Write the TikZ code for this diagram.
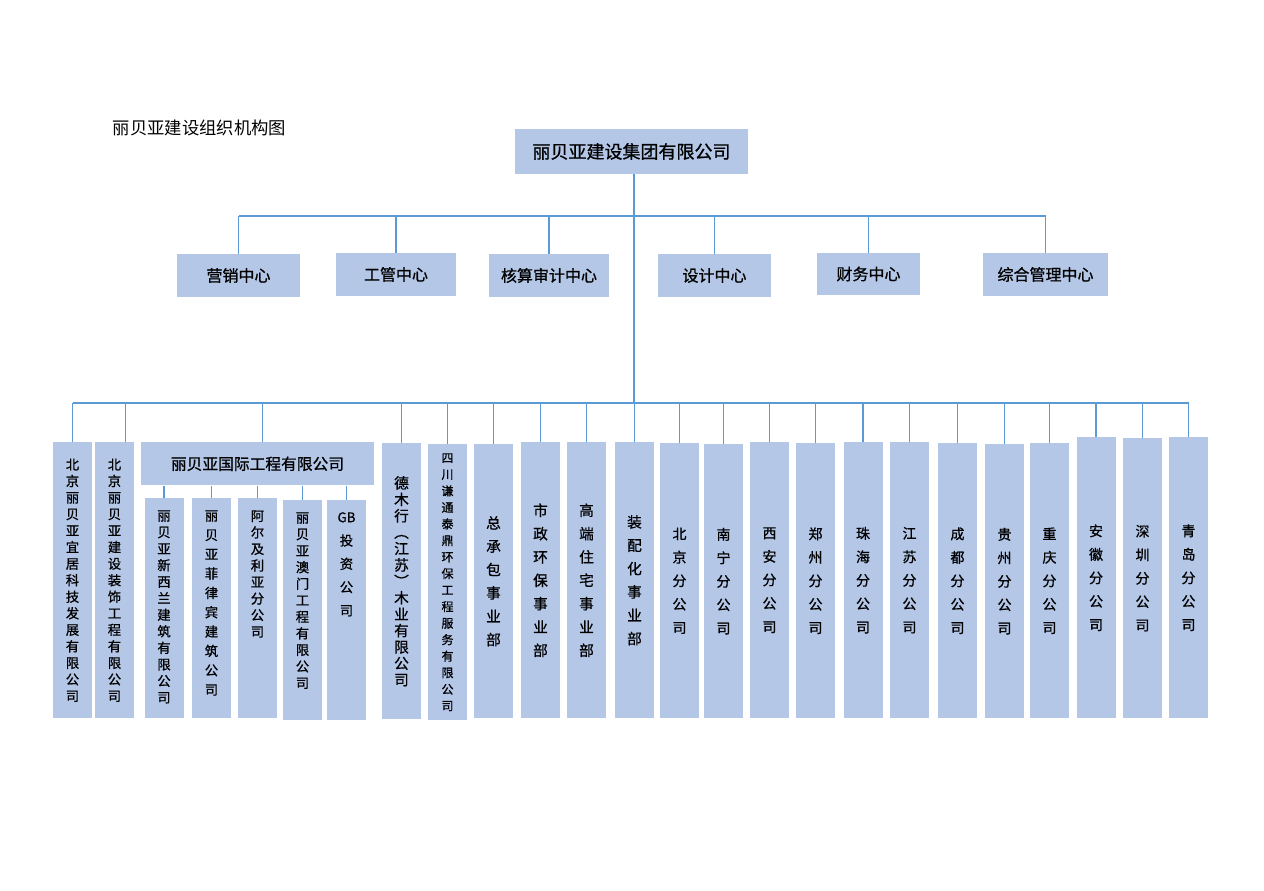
\documentclass[tikz,border=0pt]{standalone}
\usepackage{fontspec}
\setmainfont{Noto Sans CJK SC}[BoldFont={Noto Sans CJK SC}, BoldFeatures={FakeBold=0.8}]
\definecolor{boxblue}{HTML}{B4C7E7}
\definecolor{lnk}{HTML}{5B9BD5}

\begin{document}
\begin{tikzpicture}[
  x=0.75pt, y=-0.75pt,
  hd/.style={fill=boxblue, minimum width=174.75pt, minimum height=33.75pt,
             font=\fontsize{13.5}{16}\selectfont\bfseries},
  ctr/.style={fill=boxblue, minimum height=32.25pt, inner sep=1pt,
              font=\fontsize{12}{14}\selectfont\bfseries},
  col/.style={fill=boxblue, anchor=north, minimum width=29.25pt, minimum height=#1,
              inner sep=0pt, align=center},
  col/.default=207pt,
  sm/.style={font=\fontsize{10}{12.4}\selectfont\bfseries},
  br/.style={font=\fontsize{10.5}{17.6}\selectfont\bfseries},
  dp/.style={font=\fontsize{11}{17.5}\selectfont\bfseries},
  toptxt/.style 2 args={label={[anchor=north, yshift=-9pt, align=center, inner sep=0pt,
              font=\fontsize{10}{#1}\selectfont\bfseries]north:#2}},
  ln/.style={draw=lnk, line width=0.9pt}
]
\useasboundingbox (0,0) rectangle (1264,891);

\node[anchor=west, font=\fontsize{13}{15}\selectfont] (title) at (108,128) {丽贝亚建设组织机构图};
\node[hd] (grp) at (631.5,151.5) {丽贝亚建设集团有限公司};

% centres
\node[ctr, minimum width=92.25pt] (yx) at (238.5,275.5) {营销中心};
\node[ctr, minimum width=90pt]    (gg) at (396,274.5)   {工管中心};
\node[ctr, minimum width=90pt]    (hs) at (549,275.5)   {核算审计中心};
\node[ctr, minimum width=84.75pt] (sj) at (714.5,275.5) {设计中心};
\node[ctr, minimum width=77.25pt, minimum height=31.5pt] (cw) at (868.5,274) {财务中心};
\node[ctr, minimum width=93.75pt] (zh) at (1045.5,274.5) {综合管理中心};

\coordinate (busA) at (634,216);
\coordinate (busB) at (634,403);

\draw[ln] (grp.south -| busB) -- (busB);
\draw[ln] (yx.north |- busA) -- (zh.north |- busA);
\foreach \c in {yx,gg,hs,sj,cw,zh}
  \draw[ln] (\c.north) -- (\c.north |- busA);

% subsidiaries
\node[col, sm] (bj1) at (72.5,442) {北\\京\\丽\\贝\\亚\\宜\\居\\科\\技\\发\\展\\有\\限\\公\\司};
\node[col, sm] (bj2) at (114.5,442) {北\\京\\丽\\贝\\亚\\建\\设\\装\\饰\\工\\程\\有\\限\\公\\司};
\node[fill=boxblue, anchor=north, minimum width=174.75pt, minimum height=32.25pt,
      font=\fontsize{11.8}{14}\selectfont\bfseries] (intl) at (257.5,442) {丽贝亚国际工程有限公司};

\node[col=165pt, toptxt={12.4}{丽\\贝\\亚\\新\\西\\兰\\建\\筑\\有\\限\\公\\司}] (nz) at (164,498) {};
\node[col=165pt, toptxt={14.5}{丽\\贝\\亚\\菲\\律\\宾\\建\\筑\\公\\司}] (ph) at (211.5,498) {};
\node[col=165pt, toptxt={12.4}{阿\\尔\\及\\利\\亚\\分\\公\\司}] (alg) at (257.5,498) {};
\node[col=165pt, toptxt={12.4}{丽\\贝\\亚\\澳\\门\\工\\程\\有\\限\\公\\司}] (am) at (302.5,500) {};
\node[col=165pt, toptxt={17.5}{GB\\投\\资\\公\\司}] (gb) at (346.5,500) {};

\node[col, font=\fontsize{11}{12.3}\selectfont\bfseries] (dmx) at (401.5,443) {德\\木\\行\\︵\\江\\苏\\︶\\木\\业\\有\\限\\公\\司};
\node[col=207pt, font=\fontsize{9}{12.4}\selectfont\bfseries] (sc) at (447.5,444) {四\\川\\谦\\通\\泰\\鼎\\环\\保\\工\\程\\服\\务\\有\\限\\公\\司};

% business units
\node[col=205.5pt, dp] (zcb)  at (493.5,444) {总\\承\\包\\事\\业\\部};
\node[col, dp]         (szhb) at (540.5,442) {市\\政\\环\\保\\事\\业\\部};
\node[col, dp]         (gdzz) at (586.5,442) {高\\端\\住\\宅\\事\\业\\部};
\node[col, dp]         (zph)  at (634.5,442) {装\\配\\化\\事\\业\\部};

% branches
\node[col=206.25pt, br] (fbj) at (679.5,443)  {北\\京\\分\\公\\司};
\node[col=205.5pt, br]  (fnn) at (723.5,444)  {南\\宁\\分\\公\\司};
\node[col, br]          (fxa) at (769.5,442)  {西\\安\\分\\公\\司};
\node[col=206.25pt, br] (fzz) at (815.5,443)  {郑\\州\\分\\公\\司};
\node[col, br]          (fzh) at (863,442)    {珠\\海\\分\\公\\司};
\node[col, br]          (fjs) at (909.5,442)  {江\\苏\\分\\公\\司};
\node[col=206.25pt, br] (fcd) at (957.5,443)  {成\\都\\分\\公\\司};
\node[col=205.5pt, br]  (fgz) at (1004.5,444) {贵\\州\\分\\公\\司};
\node[col=206.25pt, br] (fcq) at (1049.5,443) {重\\庆\\分\\公\\司};
\node[col=210.75pt, br] (fah) at (1096,437)   {安\\徽\\分\\公\\司};
\node[col=210pt, br]    (fsz) at (1142.5,438) {深\\圳\\分\\公\\司};
\node[col=210.75pt, br] (fqd) at (1188.5,437) {青\\岛\\分\\公\\司};

\draw[ln] (bj1.north |- busB) -- (fqd.north |- busB);
\foreach \b in {bj1,dmx,sc,zcb,szhb,gdzz,zph,fbj,fnn,fxa,fzz,fzh,fjs,fcd,fgz,fcq,fah,fsz,fqd}
  \draw[ln] (\b.north) -- (\b.north |- busB);
\coordinate (bj2top) at ([xshift=8pt]bj2.north);
\coordinate (intltop) at ([xshift=4pt]intl.north);
\draw[ln] (bj2top) -- (bj2top |- busB);
\draw[ln] (intltop) -- (intltop |- busB);
\foreach \s in {nz,ph,alg,am,gb}
  \draw[ln] (\s.north) -- (\s.north |- intl.south);
\end{tikzpicture}
\end{document}
